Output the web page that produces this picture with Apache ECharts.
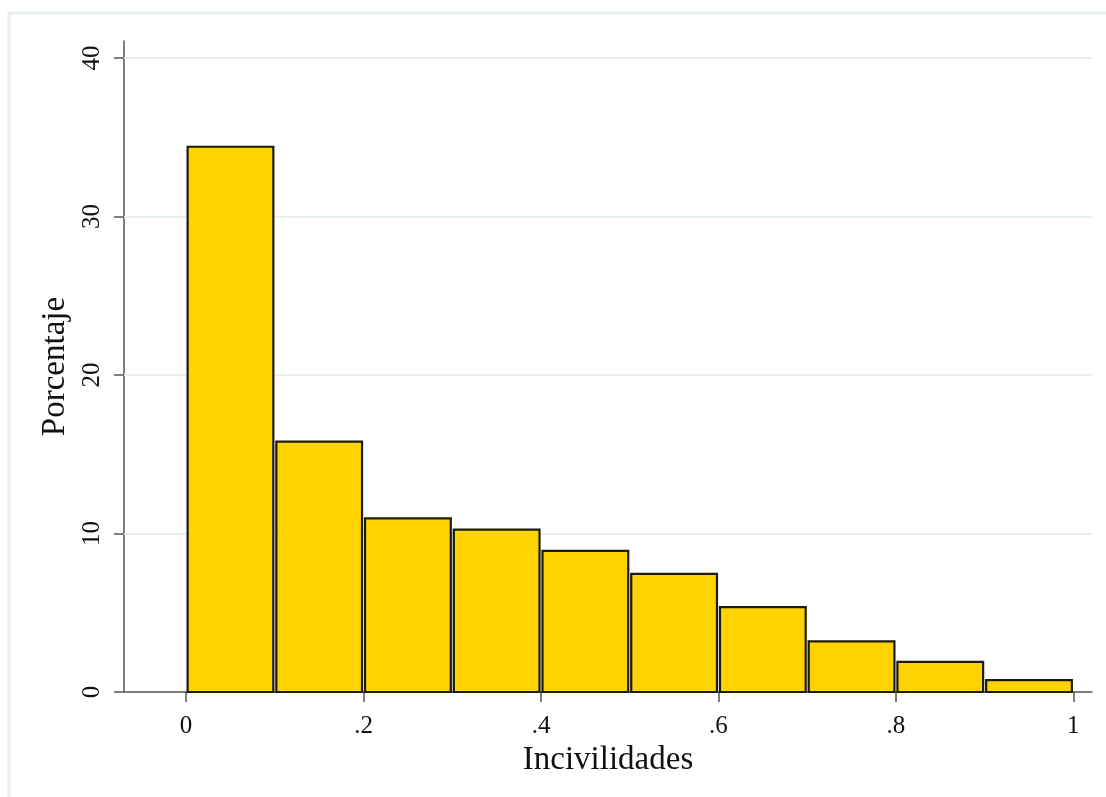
<!DOCTYPE html>
<html>
<head>
<meta charset="utf-8">
<script src="https://cdn.jsdelivr.net/npm/echarts@6/dist/echarts.min.js"></script>
<style>
  html, body { margin: 0; padding: 0; background: #ffffff; }
  #chart { width: 1106px; height: 797px; }
</style>
</head>
<body>
<div id="chart"></div>
<script>
// Histogram bins: left edges, bin width, and percentage in each bin
const binStarts = [0, 0.1, 0.2, 0.3, 0.4, 0.5, 0.6, 0.7, 0.8, 0.9];
const binWidth = 0.1;
const percentages = [34.4, 15.8, 10.95, 10.25, 8.9, 7.45, 5.35, 3.2, 1.9, 0.75];

// Axis ticks and labels
const xTicks = [0, 0.2, 0.4, 0.6, 0.8, 1];
const xTickLabels = ['0', '.2', '.4', '.6', '.8', '1'];
const yTicks = [0, 10, 20, 30, 40];

const xTitle = 'Incivilidades';
const yTitle = 'Porcentaje';

const serif = '"Liberation Serif", "Times New Roman", serif';
const axisColor = '#555555';
const gridColor = '#e6eff2';

const chart = echarts.init(document.getElementById('chart'), null, { renderer: 'canvas' });

const bars = binStarts.map((s, i) => [s, s + binWidth, percentages[i]]);

chart.setOption({
  backgroundColor: '#ffffff',
  animation: false,
  graphic: [
    {
      type: 'polyline',
      shape: { points: [[9, 800], [9, 13], [1110, 13]] },
      style: { stroke: gridColor, lineWidth: 3, fill: null },
      silent: true
    }
  ],
  grid: { left: 124, right: 14, top: 41, bottom: 105 },
  xAxis: {
    type: 'value',
    min: -0.07,
    max: 1.021,
    name: xTitle,
    nameLocation: 'middle',
    nameGap: 50,
    nameTextStyle: { fontFamily: serif, fontSize: 33, color: '#111' },
    axisLine: { show: true, onZero: false, lineStyle: { color: axisColor, width: 1.5 } },
    axisTick: { show: true, length: 10, customValues: xTicks, lineStyle: { color: axisColor, width: 1.5 } },
    axisLabel: {
      customValues: xTicks,
      margin: 22,
      fontFamily: serif,
      fontSize: 25,
      color: '#111',
      formatter: v => {
        const k = xTicks.findIndex(t => Math.abs(t - v) < 1e-6);
        return k >= 0 ? xTickLabels[k] : '';
      }
    },
    splitLine: { show: false }
  },
  yAxis: {
    type: 'value',
    min: 0,
    max: 41.07,
    name: yTitle,
    nameLocation: 'middle',
    nameGap: 46,
    nameRotate: 90,
    nameTextStyle: { fontFamily: serif, fontSize: 33, color: '#111' },
    axisLine: { show: true, onZero: false, lineStyle: { color: axisColor, width: 1.5 } },
    axisTick: { show: true, length: 10, customValues: yTicks, lineStyle: { color: axisColor, width: 1.5 } },
    axisLabel: {
      customValues: yTicks,
      rotate: 90,
      margin: 19,
      fontFamily: serif,
      fontSize: 25,
      color: '#111'
    },
    splitLine: { show: false }
  },
  series: [
    {
      // light horizontal gridlines at each y tick (except zero), kept behind the bars
      type: 'line',
      data: [],
      silent: true,
      z: 1,
      markLine: {
        symbol: 'none',
        silent: true,
        z: 1,
        label: { show: false },
        lineStyle: { color: gridColor, width: 2, type: 'solid' },
        data: yTicks.filter(v => v > 0).map(v => ({ yAxis: v }))
      }
    },
    {
      type: 'custom',
      z: 5,
      data: bars,
      encode: { x: [0, 1], y: 2 },
      renderItem: (params, api) => {
        const p0 = api.coord([api.value(0), api.value(2)]);
        const p1 = api.coord([api.value(1), 0]);
        const inset = 1.5;
        return {
          type: 'rect',
          shape: {
            x: p0[0] + inset,
            y: p0[1],
            width: p1[0] - p0[0] - 2 * inset,
            height: p1[1] - p0[1]
          },
          style: { fill: '#ffd200', stroke: '#1c1c0a', lineWidth: 2.2 }
        };
      }
    }
  ]
});
</script>
</body>
</html>
